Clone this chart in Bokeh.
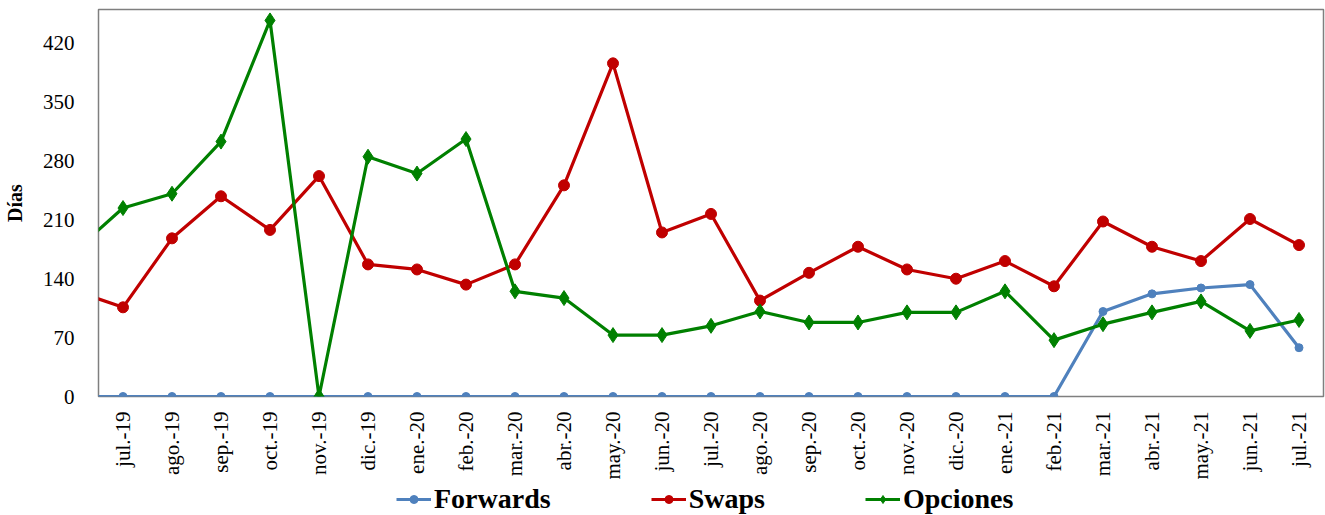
from bokeh.plotting import figure
from bokeh.layouts import column
from bokeh.models import FixedTicker, Legend, LegendItem, Range1d
from bokeh.embed import file_html
from bokeh.resources import INLINE

months = ["jun.-19", "jul.-19", "ago.-19", "sep.-19", "oct.-19", "nov.-19", "dic.-19",
          "ene.-20", "feb.-20", "mar.-20", "abr.-20", "may.-20", "jun.-20", "jul.-20",
          "ago.-20", "sep.-20", "oct.-20", "nov.-20", "dic.-20", "ene.-21", "feb.-21",
          "mar.-21", "abr.-21", "may.-21", "jun.-21", "jul.-21"]
forwards = [0, 0, 0, 0, 0, 0, 0, 0, 0, 0, 0, 0, 0, 0, 0, 0, 0, 0, 0, 0, 0,
            101, 122, 129, 133, 58]
swaps = [126, 106, 188, 238, 198, 262, 157, 151, 133, 157, 251, 396, 195, 217,
         114, 147, 178, 151, 140, 161, 131, 208, 178, 161, 211, 180]
opciones = [172, 224, 241, 303, 447, 0, 285, 265, 306, 125, 117, 73, 73, 84,
            101, 88, 88, 100, 100, 125, 67, 86, 100, 113, 78, 91]
y_ticks = [0, 70, 140, 210, 280, 350, 420]

x = list(range(len(months)))
FONT = "Liberation Serif"

p = figure(width=1325, height=482, output_backend="svg", toolbar_location=None,
           x_range=Range1d(0.5, len(months) - 0.5), y_range=Range1d(0, 460),
           min_border_left=97, min_border_right=2, min_border_top=9, min_border_bottom=0)

p.xgrid.visible = False
p.ygrid.visible = False
p.outline_line_color = "#7f7f7f"
p.outline_line_width = 1.5

series = [
    ("Forwards", forwards, "#4F81BD", "circle", 8),
    ("Swaps", swaps, "#C00000", "circle", 11),
    ("Opciones", opciones, "#008000", "diamond", 15),
]

# legend strip below the chart: same series, drawn outside its visible range
p2 = figure(width=1325, height=33, output_backend="svg", toolbar_location=None,
            x_range=Range1d(0, 1), y_range=Range1d(-20, -10),
            x_axis_location=None, y_axis_location=None,
            min_border_left=0, min_border_right=0, min_border_top=0, min_border_bottom=0)
p2.xgrid.visible = False
p2.ygrid.visible = False
p2.outline_line_color = None

items = []
for name, vals, col, mk, sz in series:
    p.line(x, vals, line_color=col, line_width=3.2)
    p.scatter(x, vals, marker=mk, size=sz, fill_color=col, line_color=col)
    l1 = p2.line(x, vals, line_color=col, line_width=3.2)
    l2 = p2.scatter(x, vals, marker=mk, size=sz - 1, fill_color=col, line_color=col)
    items.append(LegendItem(label=name, renderers=[l1, l2]))

ax = p.xaxis[0]
ax.ticker = FixedTicker(ticks=x[1:])
ax.major_label_overrides = {i: m for i, m in enumerate(months)}
ax.major_label_orientation = 1.5708
ax.axis_line_color = None
ax.major_tick_line_color = None
ax.minor_tick_line_color = None
ax.major_label_standoff = 9
ax.major_label_text_font = FONT
ax.major_label_text_font_size = "21px"
ax.major_label_text_color = "black"

ay = p.yaxis[0]
ay.ticker = FixedTicker(ticks=y_ticks)
ay.axis_line_color = None
ay.major_tick_line_color = None
ay.minor_tick_line_color = None
ay.major_label_standoff = 18
ay.major_label_text_font = FONT
ay.major_label_text_font_size = "21px"
ay.major_label_text_color = "black"
ay.axis_label = "Días"
ay.axis_label_text_font = FONT
ay.axis_label_text_font_size = "20px"
ay.axis_label_text_font_style = "bold"
ay.axis_label_text_color = "black"
ay.axis_label_standoff = 14

legend = Legend(items=items, orientation="horizontal", location=(298, 0),
                label_text_font=FONT, label_text_font_size="28px",
                label_text_font_style="bold", label_text_color="black",
                glyph_width=35, glyph_height=20, spacing=100, padding=0,
                margin=0, border_line_color=None, background_fill_alpha=0,
                label_standoff=3)
p2.add_layout(legend, "center")

open("out.html", "w").write(file_html(column(p, p2, spacing=0), INLINE))
